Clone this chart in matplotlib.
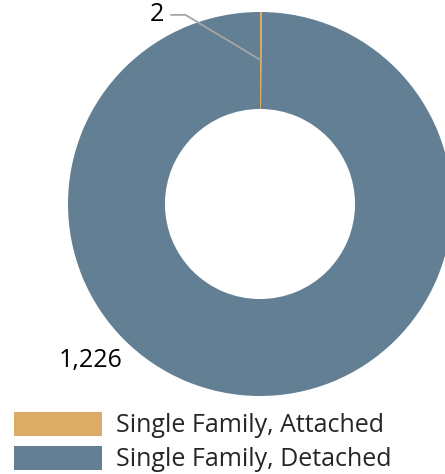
import matplotlib.pyplot as plt

# housing units by type
categories = ['Single Family, Attached', 'Single Family, Detached']
values = [2, 1226]
value_labels = ['2', '1,226']
colors = ['#DCAB66', '#627F94']

plt.rcParams['font.family'] = ['Open Sans', 'DejaVu Sans']

W, H = 445, 474
fig = plt.figure(figsize=(W / 100, H / 100), dpi=100)

# donut: center (260, 204) px, radius 192 px
cx, cy, r = 260, 204, 192
ax = fig.add_axes([(cx - r) / W, (H - cy - r) / H, 2 * r / W, 2 * r / H])
wedges, _ = ax.pie(values, colors=colors, startangle=90, counterclock=False,
                   radius=1, wedgeprops=dict(width=0.505, linewidth=0))
ax.set_xlim(-1, 1)
ax.set_ylim(-1, 1)
ax.set_aspect('equal')
ax.axis('off')

# value labels
ax.annotate(value_labels[0], xy=(0.003, 0.75), xytext=(-0.50, 0.985),
            fontsize=18, ha='right', va='center', color='black',
            arrowprops=dict(arrowstyle='-', color='#A6A6A6', lw=1.3,
                            connectionstyle='angle,angleA=0,angleB=149,rad=0',
                            shrinkA=3, shrinkB=0),
            annotation_clip=False)
ax.text(-0.88, -0.815, value_labels[1], fontsize=18, ha='center', va='center',
        color='black')

leg = fig.legend(wedges, categories, loc='upper left',
                 bbox_to_anchor=(14 / W, 1 - 412 / H), frameon=False,
                 fontsize=18, handlelength=3.5, handleheight=1.08,
                 labelspacing=0.3, handletextpad=0.6, borderpad=0,
                 borderaxespad=0, labelcolor='#262626')

fig.savefig('out.png', dpi=100)
